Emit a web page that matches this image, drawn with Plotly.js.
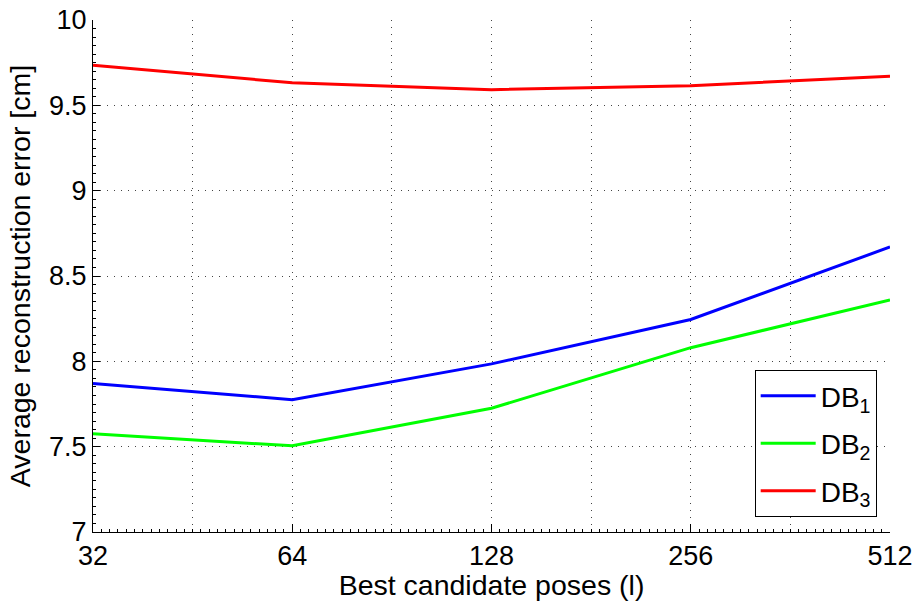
<!DOCTYPE html>
<html>
<head>
<meta charset="utf-8">
<script src="https://cdn.plot.ly/plotly-3.0.1.min.js"></script>
<style>html,body{margin:0;padding:0;background:#fff;}#chart{width:918px;height:601px;}</style>
</head>
<body>
<div id="chart"></div>
<script>
// Data
const candidatePoses = [32, 64, 128, 256, 512];
const db1Error = [7.87, 7.775, 7.985, 8.245, 8.67];
const db2Error = [7.575, 7.505, 7.725, 8.08, 8.36];
const db3Error = [9.735, 9.632, 9.592, 9.615, 9.67];
const seriesNames = ['DB<sub>1</sub>', 'DB<sub>2</sub>', 'DB<sub>3</sub>'];
const seriesColors = ['#0000ff', '#00ff00', '#ff0000'];
const xTickLabels = ['32', '', '64', '', '128', '', '256', '', '512'];

// Tick positions (major ticks at every half-octave, labels only on octaves)
const xTickVals = xTickLabels.map((_, k) => 32 * Math.pow(2, k / 2));
const xMinorVals = [];
for (let k = 0; k <= 96; k++) xMinorVals.push(32 * Math.pow(2, k / 24));

const FONT = 'Liberation Sans, Arial, sans-serif';
const grid = {gridcolor: '#444', gridwidth: 1, griddash: '1px,6px'};

const traces = [db1Error, db2Error, db3Error].map((vals, i) => ({
  x: candidatePoses,
  y: vals,
  type: 'scatter',
  mode: 'lines',
  name: seriesNames[i],
  legendgroup: 'g' + i,
  line: {color: seriesColors[i], width: 3}
}));

const layout = {
  width: 918, height: 601,
  margin: {l: 93, r: 28, t: 20, b: 69},
  paper_bgcolor: '#fff', plot_bgcolor: '#fff',
  font: {family: FONT, color: '#000', size: 27},
  showlegend: true,
  legend: {
    x: 0.9833, y: 0.029, xanchor: 'right', yanchor: 'bottom',
    bgcolor: '#fff', bordercolor: '#000', borderwidth: 1,
    font: {family: FONT, size: 28, color: '#000'},
    itemwidth: 55,
    tracegroupgap: 8
  },
  xaxis: Object.assign({
    type: 'log',
    range: [Math.log10(32), Math.log10(512)],
    tickmode: 'array', tickvals: xTickVals, ticktext: xTickLabels,
    ticks: 'inside', ticklen: 8, tickwidth: 1, tickcolor: '#000',
    showline: true, linecolor: '#000', linewidth: 1,
    showgrid: true, zeroline: false, mirror: false,
    tickfont: {family: FONT, size: 27, color: '#000'},
    title: {text: 'Best candidate poses (l)', font: {family: FONT, size: 28.5, color: '#000'}, standoff: 4},
    minor: {tickmode: 'array', tickvals: xMinorVals, ticks: 'inside', ticklen: 3, tickcolor: '#000', showgrid: false}
  }, grid),
  yaxis: Object.assign({
    range: [7, 10], dtick: 0.5, tick0: 7,
    ticks: 'inside', ticklen: 7, tickwidth: 1, tickcolor: '#000',
    showline: true, linecolor: '#000', linewidth: 1,
    showgrid: true, zeroline: false, mirror: false,
    tickfont: {family: FONT, size: 27, color: '#000'},
    title: {text: 'Average reconstruction error [cm]', font: {family: FONT, size: 28.5, color: '#000'}, standoff: 10},
    minor: {dtick: 0.05, ticks: 'inside', ticklen: 3, tickcolor: '#000', showgrid: false}
  }, grid)
};

Plotly.newPlot('chart', traces, layout, {displayModeBar: false, staticPlot: true});
</script>
</body>
</html>
